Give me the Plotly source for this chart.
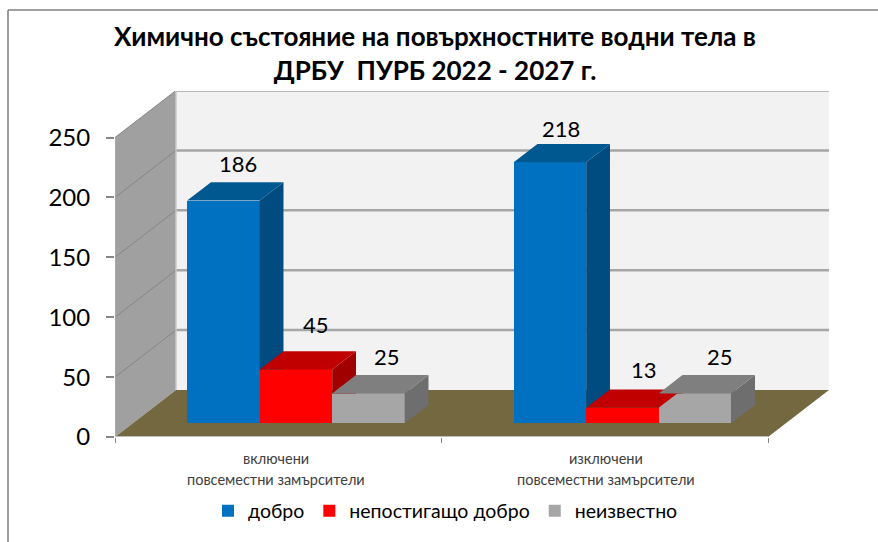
import plotly.graph_objects as go

# --- data ---
categories = [["включени", "повсеместни замърсители"], ["изключени", "повсеместни замърсители"]]
series_names = ["добро", "непостигащо добро", "неизвестно"]
dobro = [186, 218]
nepostigashto = [45, 13]
neizvestno = [25, 25]
y_ticks = [0, 50, 100, 150, 200, 250]
title_text = "Химично състояние на повърхностните водни тела в<br>ДРБУ  ПУРБ 2022 - 2027 г."

# --- styles ---
front_colors = ["#0070C0", "#FF0000", "#A6A6A6"]
top_colors = ["#005891", "#C00000", "#7F7F7F"]
side_colors = ["#004B80", "#A00000", "#6E6E6E"]
label_dx = [[-9, -13], [-4, -2.5], [-5, 1]]
label_dy = [[19, 15.5], [26.5, 20], [19, 19]]
cat_dx = [-2, 1.5]
FONT = "Lato, Carlito, 'Noto Sans', sans-serif"

# --- geometry of the oblique view ---
W, H = 878, 542
L, R, T, B = 115, 830, 91, 437
PX_PER_CAT = 326.5
PX_PER_VAL = 1.198
DX = 61 / PX_PER_CAT
DY = 47 / PX_PER_VAL
D0, D1 = 0.29, 0.68
BAR_W = 72.5 / PX_PER_CAT


def proj(x, v, d):
    return x + d * DX, v + d * DY


def px(x):
    return (x - L) / (R - L)


def py(y):
    return (B - y) / (B - T)


def poly_path(pts):
    return "M " + " L ".join(f"{a},{b}" for a, b in pts) + " Z"


shapes = []


def plane(points, fill, line=None, lw=0):
    shapes.append(dict(type="path", xref="x", yref="y", layer="below",
                       path=poly_path([proj(*p) for p in points]),
                       fillcolor=fill, line=dict(color=line or fill, width=lw)))


def seg(a, b, color, width):
    (x0, y0), (x1, y1) = proj(*a), proj(*b)
    shapes.append(dict(type="line", xref="x", yref="y", layer="below", x0=x0, y0=y0, x1=x1, y1=y1,
                       line=dict(color=color, width=width)))


plane([(0, 0, 1), (2, 0, 1), (2, 250, 1), (0, 250, 1)], "#F2F2F2")
plane([(0, 0, 0), (0, 250, 0), (0, 250, 1), (0, 0, 1)], "#A0A0A0")
plane([(0, 0, 0), (2, 0, 0), (2, 0, 1), (0, 0, 1)], "#736840")
for t in y_ticks[1:]:
    seg((0, t, 1), (2, t, 1), "#A6A6A6", 2.5)
    seg((0, t, 0), (0, t, 1), "#858585", 1)
seg((0, 0, 0), (0, 250, 0), "#B0B0B0", 1)
seg((0, 0, 0), (2, 0, 0), "#BDBDBD", 2)
seg((0, 250, 1), (0, 0, 1), "#C8C8C8", 1.5)

# frame of the chart object
for x0, y0, x1, y1 in [(8, 10, 8, H), (8, 10, W, 10)]:
    shapes.append(dict(type="line", xref="paper", yref="paper", x0=px(x0), y0=py(y0), x1=px(x1), y1=py(y1),
                       line=dict(color="#7F7F7F", width=1.5)))

fig = go.Figure()
values = [dobro, nepostigashto, neizvestno]
annotations = []

lift = D0 * DY
for k, (name, vals) in enumerate(zip(series_names, values)):
    xs = [i + 0.5 + D0 * DX + (k - 1) * BAR_W for i in range(2)]
    fig.add_trace(go.Bar(name=name, x=xs, y=vals, base=[lift, lift], width=BAR_W,
                         marker=dict(color=front_colors[k], line=dict(width=0)), hoverinfo="y"))

for i in range(2):
    for k, vals in enumerate(values):
        v = vals[i]
        xl = i + 0.5 + (k - 1.5) * BAR_W
        xr = xl + BAR_W
        clip = (values[k + 1][i] + lift) if k < 2 else -1e9
        side = [proj(xr, 0, D0), proj(xr, 0, D1), proj(xr, v, D1), proj(xr, v, D0)]
        side = [(a, max(b, clip)) for a, b in side]
        sx, sy = zip(*side)
        fig.add_trace(go.Scatter(x=list(sx) + [sx[0]], y=list(sy) + [sy[0]], mode="lines", fill="toself",
                                 fillcolor=side_colors[k], line=dict(width=0), showlegend=False, hoverinfo="skip"))
        top = [proj(xl, v, D0), proj(xr, v, D0), proj(xr, v, D1), proj(xl, v, D1)]
        tx, ty = zip(*top)
        fig.add_trace(go.Scatter(x=list(tx) + [tx[0]], y=list(ty) + [ty[0]], mode="lines", fill="toself",
                                 fillcolor=top_colors[k], line=dict(width=0), showlegend=False, hoverinfo="skip"))
        lx, ly = proj((xl + xr) / 2, v, D1)
        annotations.append(dict(x=lx, y=ly, xref="x", yref="y", text=str(v), showarrow=False,
                                xshift=label_dx[k][i], yshift=label_dy[k][i], xanchor="center", yanchor="middle",
                                font=dict(size=22, color="#000000", family=FONT)))

for i, lines in enumerate(categories):
    for line_text, y_px in zip(lines, (459, 479)):
        annotations.append(dict(x=i + 0.5, y=py(y_px), xref="x", yref="paper", text=line_text, showarrow=False,
                                xshift=cat_dx[i], xanchor="center", yanchor="middle",
                                font=dict(size=14.5, color="#404040", family=FONT)))

fig.update_layout(
    width=W, height=H, autosize=False,
    paper_bgcolor="#FFFFFF", plot_bgcolor="rgba(0,0,0,0)",
    margin=dict(l=L, r=W - R, t=T, b=H - B, pad=0),
    barmode="overlay", bargap=0,
    title=dict(text=title_text, x=435 / W, xanchor="center", y=1 - 46 / H, yanchor="top",
               font=dict(size=26, color="#000000", family=FONT, weight="bold")),
    xaxis=dict(range=[0, (R - L) / PX_PER_CAT], showgrid=False, zeroline=False, showline=False,
               tickvals=[0, 1, 2], ticks="outside", ticklen=5, tickcolor="#868686", showticklabels=False,
               fixedrange=True),
    yaxis=dict(range=[0, (B - T) / PX_PER_VAL], showgrid=False, zeroline=False, showline=False,
               tickvals=y_ticks, ticks="outside", ticklen=8, tickcolor="#868686", tickwidth=1.5,
               ticklabelstandoff=11, tickfont=dict(size=24, color="#000000", family=FONT), fixedrange=True),
    legend=dict(orientation="h", x=px(208), y=py(511), xanchor="left", yanchor="middle",
                font=dict(size=19.5, color="#000000", family=FONT), bgcolor="rgba(0,0,0,0)",
                itemclick=False, itemdoubleclick=False, traceorder="normal"),
    shapes=shapes, annotations=annotations, showlegend=True,
)

fig.write_html("out.html", config={"displayModeBar": False},
               post_script="document.body.style.margin='0';")
